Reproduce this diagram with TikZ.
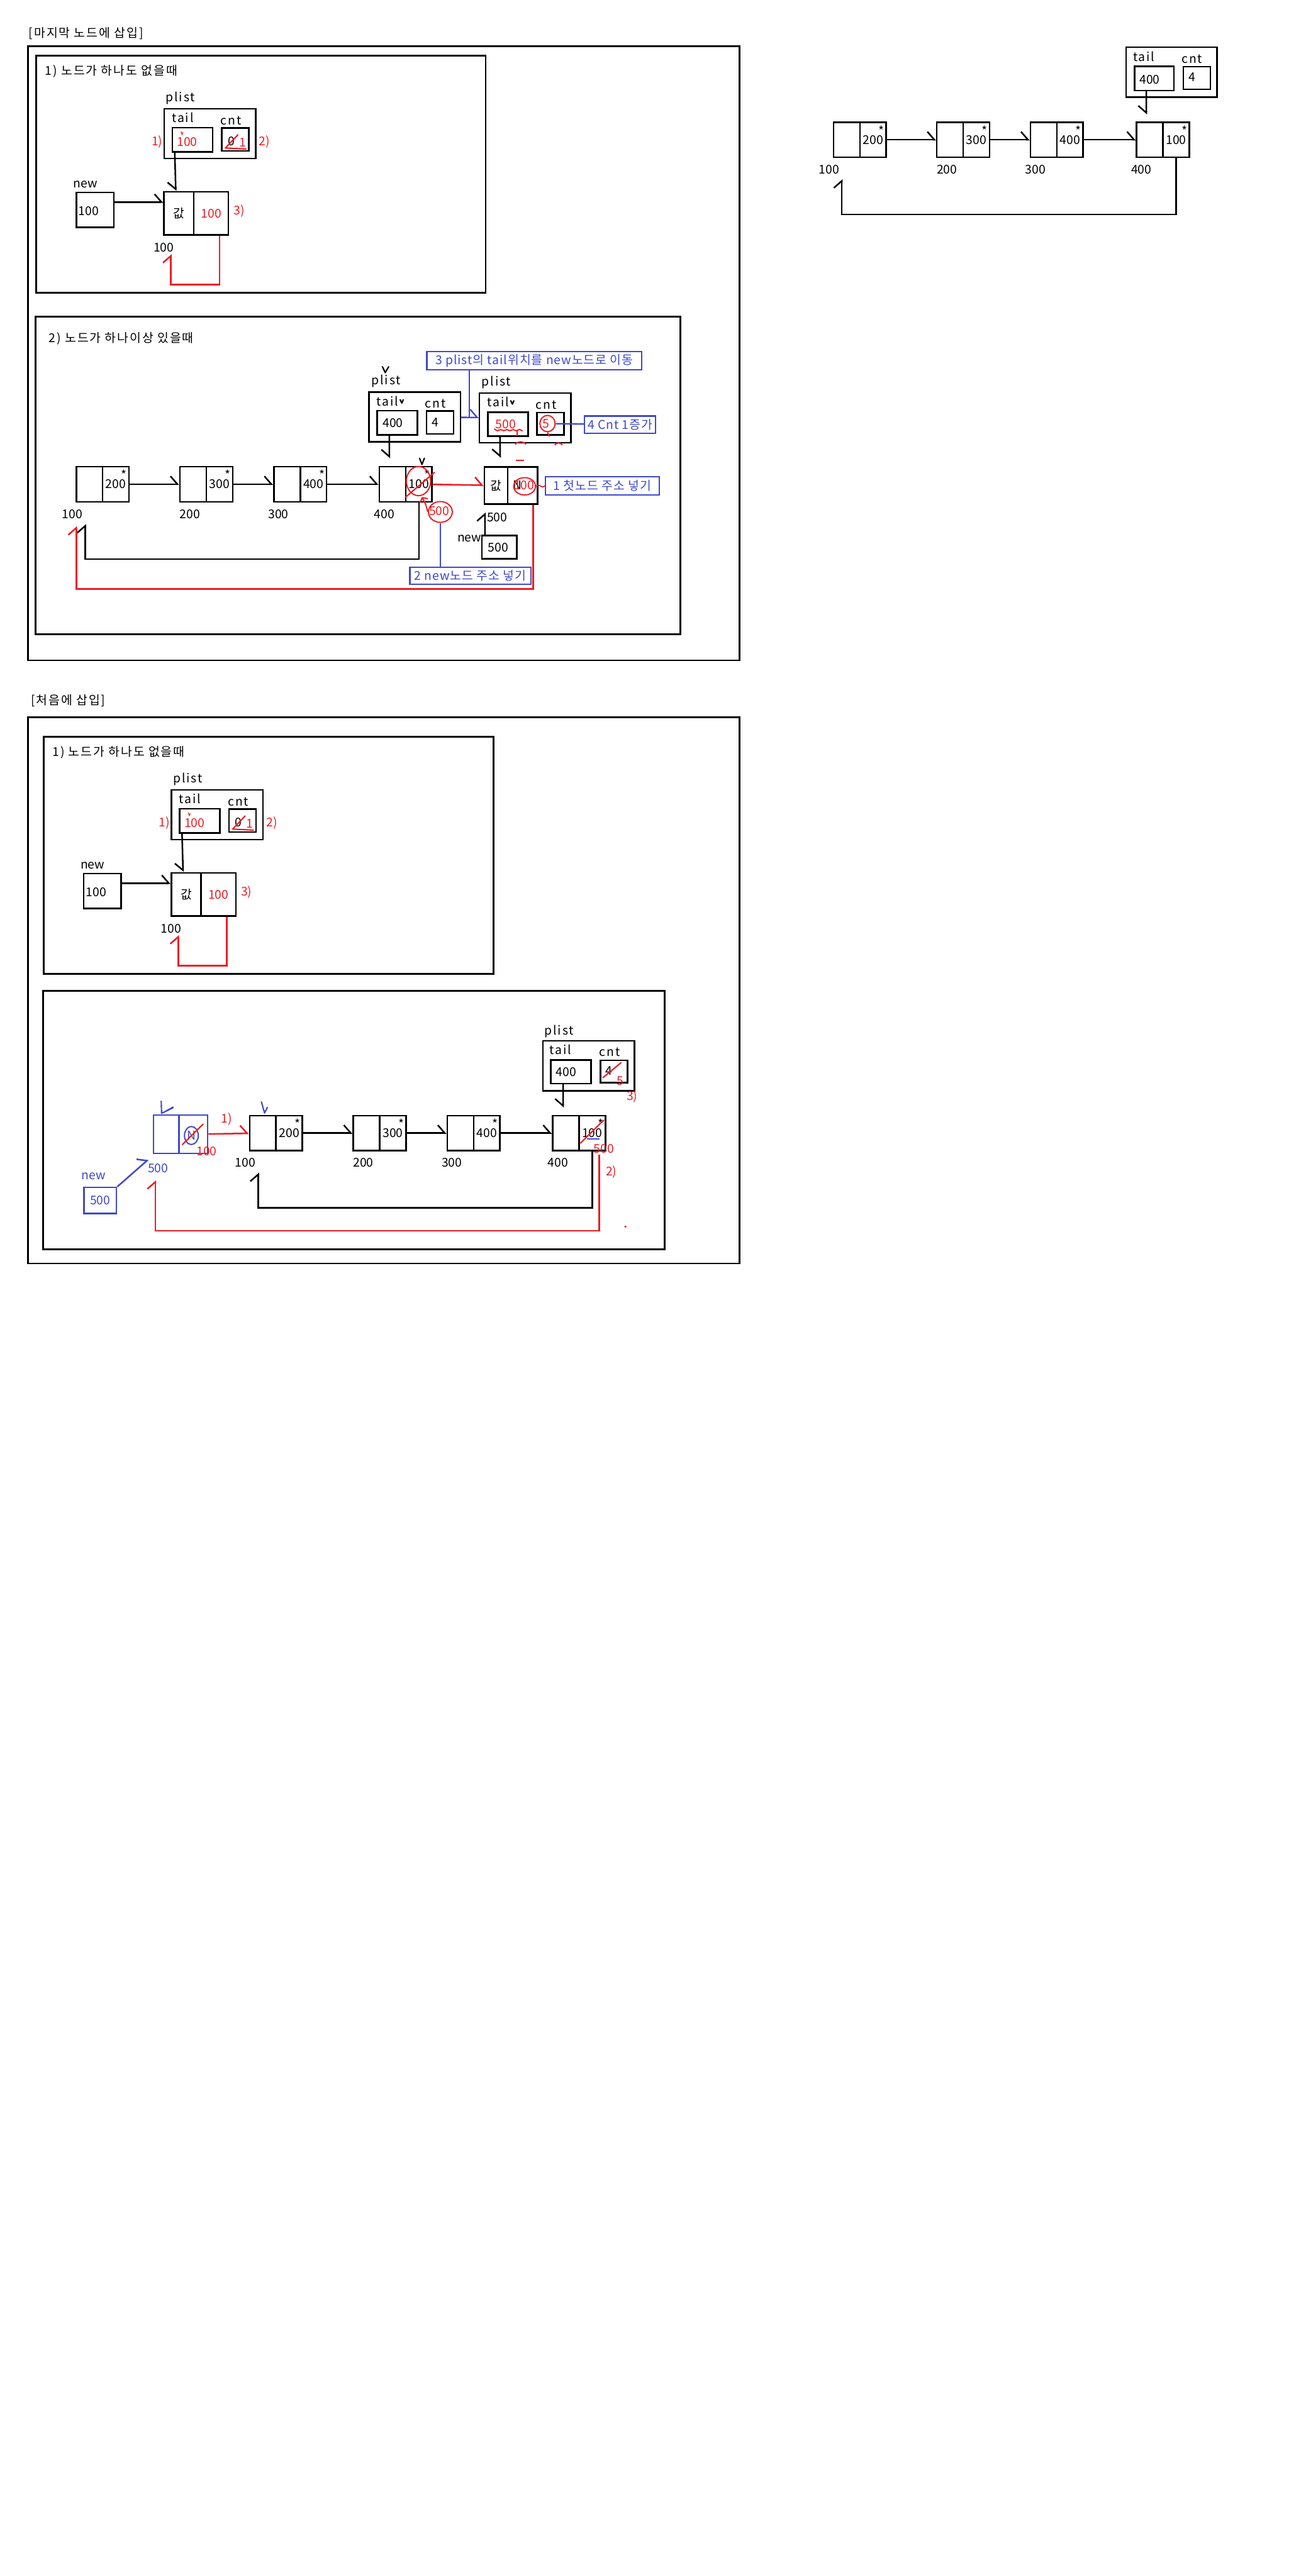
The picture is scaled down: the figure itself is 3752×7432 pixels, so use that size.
\documentclass[tikz,border=0pt]{standalone}
\usepackage{fontspec}
\setmainfont{Noto Sans CJK KR}
\newfontfamily\wide[LetterSpace=10]{Noto Sans CJK KR}
\newfontfamily\notefont[LetterSpace=5]{Noto Sans CJK KR}
\usepackage{tikz}
\usetikzlibrary{arrows.meta, shapes.geometric}
\definecolor{pred}{RGB}{237,28,36}
\definecolor{pblue}{RGB}{63,72,204}

\begin{document}
\begin{tikzpicture}[
    x=0.1mm, y=-0.1mm,
    >={Straight Barb[harpoon, length=2mm, width=4.6mm]},
    line width=1.3pt,
    every node/.style={font=\fontsize{10}{12}\selectfont, inner sep=0pt},
    word/.style={font=\fontsize{10}{12}\selectfont\wide},
    box/.style={draw, rectangle},
    half/.style={box, minimum width=7.6mm, minimum height=10.1mm},
    ptr/.style={half, label={[anchor=center, xshift=-1.6mm, yshift=-2.6mm]north east:*}},
    plistbox/.style={box, minimum width=26.4mm, minimum height=14.4mm},
    tailbox/.style={box, minimum width=11.6mm, minimum height=7mm},
    cntbox/.style={box, minimum width=7.8mm, minimum height=6.6mm},
    rtext/.style={text=pred},
    btext/.style={text=pblue},
    note/.style={draw=pblue, text=pblue, line width=1.2pt, rectangle, font=\fontsize{10}{12}\selectfont\notefont},
    plate/.style={line width=1.4pt},
    pen/.style={line width=1.1pt, line cap=round, line join=round}
]
\fill[white] (0,0) rectangle (3752,7432);
\useasboundingbox (0,0) rectangle (3752,7432);

% Titles
\node[word, anchor=west] (ttlA) at (81,96) {[마지막 노드에 삽입]};
\node[word, anchor=west] (ttlB) at (87,2022) {[처음에 삽입]};

% Plates
\draw[plate] (81,133) rectangle (2133,1905);
\draw[plate] (104,161) rectangle (1401,845);
\draw[plate] (102,914) rectangle (1962,1830);
\draw[plate] (81,2069) rectangle (2133,3645);
\draw[plate] (126,2126) rectangle (1423,2810);
\draw[plate] (124,2859) rectangle (1917,3605);

% ---- last: 1) no node yet
\node[word, anchor=west] (hdA1) at (128,205) {1) 노드가 하나도 없을때};
\node[word, anchor=west] (plLA) at (476,283) {plist};
\node[plistbox] (plA) at (605.5,385.5) {};
\node[word] (tlA) at (527,340) {tail};
\node[word] (cnA) at (666,348) {cnt};
\node[tailbox] (tA) at (555,403) {};
\node[rtext] (tvA) at (540,409) {100};
\node[cntbox] (cA) at (678.5,402.5) {};
\node (cvA) at (667,408) {0};
\node[rtext] (cwA) at (700,411) {1};
\draw[pred, pen] (650,427) -- (686,389);
\draw[pred, pen] (650,427) -- (710,430);
\draw[pred, line width=0.6pt] (522,379) -- (525,388) -- (528,381);
\node[rtext] (s1A) at (453,410) {1)};
\node[rtext] (s2A) at (763,410) {2)};
\node (nwlA) at (246,532) {new};
\node[box, minimum width=10.8mm, minimum height=10.1mm] (nwA) at (274,605.5) {};
\node (nwvA) at (256,609) {100};
\node[box, minimum width=8.6mm, minimum height=12.5mm] (va) at (516,615.5) {값};
\node[box, text=pred, minimum width=10mm, minimum height=12.5mm] (vb) at (609,615.5) {100};
\node[rtext] (s3A) at (690,608) {3)};
\node (adA) at (472,714) {100};
\coordinate (lpA) at (493,733);
\draw[-{>[swap]}] ([xshift=-5.1mm]tA.south) -- ([xshift=-0.9mm]va.north);
\draw[->] (nwA.east |- 0,583) -- (va.west |- 0,583);
\draw[pred, ->] ([xshift=2.4mm]vb.south) -- ++(0,141) -| (lpA);

% ---- top right list
\node[plistbox, minimum width=26.2mm] (plR) at (3379,208.5) {};
\node[word] (tlR) at (3299,163) {tail};
\node[word] (cnR) at (3438,171) {cnt};
\node[tailbox, minimum width=11.4mm] (tR) at (3329,226) {};
\node (tvR) at (3316,229) {400};
\node[cntbox] (cR) at (3452,225) {};
\node (cvR) at (3439,223) {4};
\node[half] (r1a) at (2442,403) {};
\node[ptr] (r1b) at (2518,403) {200};
\node[half] (r2a) at (2740,403) {};
\node[ptr] (r2b) at (2816,403) {300};
\node[half] (r3a) at (3010,403) {};
\node[ptr] (r3b) at (3086,403) {400};
\node[half] (r4a) at (3316,403) {};
\node[ptr] (r4b) at (3392,403) {100};
\node (ad1R) at (2391,489) {100};
\node (ad2R) at (2731,489) {200};
\node (ad3R) at (2986,489) {300};
\node (ad4R) at (3292,489) {400};
\coordinate (lpR) at (2428,517);
\draw[->] (r1b) -- (r2a);
\draw[->] (r2b) -- (r3a);
\draw[->] (r3b) -- (r4a);
\draw[-{>[swap]}] ([xshift=-2.3mm]tR.south) -- ([xshift=-1mm, yshift=2mm]r4a.north);
\draw[->] (r4b.south) -- ++(0,163) -| (lpR);

% ---- last: 2) one or more nodes
\node[word, anchor=west] (hdA2) at (139,976) {2) 노드가 하나이상 있을때};
\node[half] (s1a) at (258,1397) {};
\node[ptr] (s1b) at (334,1397) {200};
\node[half] (s2a) at (557,1397) {};
\node[ptr] (s2b) at (633,1397) {300};
\node[half] (s3a) at (828,1397) {};
\node[ptr] (s3b) at (904,1397) {400};
\node[half] (s4a) at (1132,1397) {};
\node[ptr] (s4b) at (1208,1397) {100};
\node[box, minimum width=6.7mm, minimum height=10.7mm] (s5a) at (1430.5,1400.5) {값};
\node[box, minimum width=8.6mm, minimum height=10.7mm] (s5b) at (1507,1400.5) {};
\node (ad1A) at (208,1483) {100};
\node (ad2A) at (548,1483) {200};
\node (ad3A) at (803,1483) {300};
\node (ad4A) at (1108,1483) {400};
\node (ad5A) at (1434,1492) {500};
\coordinate (lpA2b) at (246,1512);
\coordinate (lpA2r) at (220,1518);
\draw[->] (s1b) -- (s2a);
\draw[->] (s2b) -- (s3a);
\draw[->] (s3b) -- (s4a);
\draw[->] (s4b.south) -- ++(0,163) -| (lpA2b);

% old plist
\draw[pen] (1103,1058) -- (1111,1075) -- (1121,1058);
\node[word, anchor=west] (plLA2a) at (1069,1100) {plist};
\node[plistbox] (plA2a) at (1196,1203) {};
\node[word] (tlA2a) at (1118,1158) {tail};
\draw[pen] (1154,1153) -- (1159,1163) -- (1163,1153);
\node[word] (cnA2a) at (1256,1165) {cnt};
\node[tailbox] (tA2a) at (1146,1220) {};
\node (tvA2a) at (1133,1221) {400};
\node[cntbox] (cA2a) at (1269,1219) {};
\node (cvA2a) at (1255,1219) {4};
\draw[-{>[swap]}] ([xshift=-2.3mm]tA2a.south) -- ([xshift=-0.9mm, yshift=2.2mm]s4a.north);

% new plist
\node[word, anchor=west] (plLA2b) at (1387,1104) {plist};
\node[plistbox, minimum height=14.3mm] (plA2b) at (1515,1205.5) {};
\node[word] (tlA2b) at (1437,1160) {tail};
\draw[pen] (1473,1156) -- (1478,1166) -- (1482,1156);
\node[word] (cnA2b) at (1575,1168) {cnt};
\node[tailbox, minimum height=6.9mm] (tA2b) at (1465,1223.5) {};
\node[rtext] (tvA2b) at (1459,1224) {500};
\draw[pred, line width=1pt, rounded corners=0.6mm] (1426,1237) -- (1435,1245) -- (1444,1237) -- (1453,1245) -- (1462,1237) -- (1471,1245) -- (1480,1237) -- (1489,1245) -- (1498,1237) -- (1507,1244);
\draw[pred, line width=1pt] (1491,1241) -- (1491,1258);
\node[cntbox, minimum height=6.5mm] (cA2b) at (1588,1222.5) {};
\node[rtext] (cvA2b) at (1574,1222) {5};
\node[ellipse, draw=pred, line width=1pt, minimum width=4.4mm, minimum height=4.7mm] (c5) at (1579,1222) {};
\draw[pred, line width=1pt] (c5.south) -- ++(6,12);
\draw[pred, line width=1pt] (1486,1282) .. controls (1495,1272) and (1508,1272) .. (1517,1282);
\draw[pred, line width=1pt] (1600,1284) .. controls (1606,1276) and (1616,1276) .. (1622,1284);
\draw[pred, line width=1pt] (1488,1328) -- (1512,1328);
\draw[-{>[swap]}] ([xshift=-2.3mm]tA2b.south) -- ([xshift=1.2mm, yshift=2.4mm]s5a.north);

% change marks on the old last node
\node[ellipse, draw=pred, line width=1pt, minimum width=7mm, minimum height=8.4mm] (cA4) at (1207,1388) {};
\draw[pred, pen] (1169,1435) -- (1253,1363);
\draw[pen] (1210,1322) -- (1217,1340) -- (1224,1322);
\node[ellipse, draw=pred, line width=1pt, minimum width=6.9mm, minimum height=6mm] (c500) at (1270,1477) {};
\node[rtext] (t500) at (1267,1475) {500};
\draw[pred, line width=1pt, -{Straight Barb[length=1mm, width=2.6mm]}] (c500.west) .. controls (1228,1455) .. ([xshift=0.9mm, yshift=1.6mm]s4b.south);

% new node
\node (nN) at (1492,1400) {N};
\node[rtext] (vN5) at (1512,1400) {100};
\node[ellipse, draw=pred, line width=1pt, minimum width=6.3mm, minimum height=5mm] (c100) at (1513,1403) {};
\node (nwlA2) at (1354,1554) {new};
\node[box, minimum width=10.1mm, minimum height=6.7mm] (nwA2) at (1440.5,1578.5) {};
\node (nwvA2) at (1437,1579) {500};
\draw[->] ([xshift=1.1mm]nwA2.north west) -- ([xshift=0.4mm, yshift=-2.2mm]s5a.south west);
\draw[pred, ->] (s4b) -- (s5a);
\draw[pred, ->] ([xshift=3.1mm]s5b.south) -- ++(0,243) -| (lpA2r);

% notes
\node[note, minimum width=62mm, minimum height=5.3mm] (note3) at (1541,1040.5) {3 plist의 tail위치를 new노드로 이동};
\node[note, minimum width=20.5mm, minimum height=5mm] (note4) at (1788.5,1225) {4 Cnt 1증가};
\node[note, minimum width=32.8mm, minimum height=5.3mm] (note1) at (1737,1401.5) {1 첫노드 주소 넣기};
\node[note, minimum width=34.9mm, minimum height=4.9mm] (note2) at (1356.5,1661.5) {2 new노드 주소 넣기};
\coordinate (j3) at (1353,1204);
\draw[pblue, line width=1.2pt] (note3.south -| j3) -- (j3);
\draw[pblue, line width=1.2pt, ->] (plA2a) -- (plA2b);
\draw[pblue, line width=1.2pt] (c5) -- (note4);
\draw[pblue, line width=1.2pt] (c500.south) -- (c500.south |- note2.north);
\draw[pred, line width=0.9pt] (c100.east) .. controls (1555,1392) and (1562,1412) .. (note1.west);

% ---- first: 1) no node yet
\begin{scope}[shift={(21,1965)}]
\node[word, anchor=west] (hdB1) at (128,205) {1) 노드가 하나도 없을때};
\node[word, anchor=west] (plLB) at (476,283) {plist};
\node[plistbox] (plB) at (605.5,385.5) {};
\node[word] (tlB) at (527,340) {tail};
\node[word] (cnB) at (666,348) {cnt};
\node[tailbox] (tB) at (555,403) {};
\node[rtext] (tvB) at (540,409) {100};
\node[cntbox] (cB) at (678.5,402.5) {};
\node (cvB) at (667,408) {0};
\node[rtext] (cwB) at (700,411) {1};
\draw[pred, pen] (650,427) -- (686,389);
\draw[pred, pen] (650,427) -- (710,430);
\draw[pred, line width=0.6pt] (522,379) -- (525,388) -- (528,381);
\node[rtext] (s1B) at (453,410) {1)};
\node[rtext] (s2B) at (763,410) {2)};
\node (nwlB) at (246,532) {new};
\node[box, minimum width=10.8mm, minimum height=10.1mm] (nwB) at (274,605.5) {};
\node (nwvB) at (256,609) {100};
\node[box, minimum width=8.6mm, minimum height=12.5mm] (wa) at (516,615.5) {값};
\node[box, text=pred, minimum width=10mm, minimum height=12.5mm] (wb) at (609,615.5) {100};
\node[rtext] (s3B) at (690,608) {3)};
\node (adB) at (472,714) {100};
\coordinate (lpB) at (493,733);
\draw[-{>[swap]}] ([xshift=-5.1mm]tB.south) -- ([xshift=-0.9mm]wa.north);
\draw[->] (nwB.east |- 0,583) -- (wa.west |- 0,583);
\draw[pred, ->] ([xshift=2.4mm]wb.south) -- ++(0,141) -| (lpB);
\end{scope}

% ---- first: nodes already there
\node[box, draw=pblue, minimum width=7.3mm, minimum height=11.1mm] (q0a) at (479.5,3272.5) {};
\node[box, draw=pblue, minimum width=8.3mm, minimum height=11.1mm] (q0b) at (557.5,3272.5) {};
\node[ellipse, draw=pblue, line width=1pt, minimum width=4mm, minimum height=5.2mm] (cN) at (552,3276) {};
\node[btext] (qN) at (553,3275) {N};
\draw[pred, pen] (526,3302) -- (586,3243);
\node[rtext] (q0v) at (596,3322) {100};
\draw[pblue, pen] (465,3177) -- (466,3212) -- (499,3196);
\draw[pblue, pen] (478,3206) -- (499,3194);
\node[btext] (ad0B) at (456,3371) {500};
\node[btext] (nwlB2) at (270,3394) {new};
\node[box, draw=pblue, text=pblue, minimum width=9.4mm, minimum height=7.5mm] (nwB2) at (289,3463.5) {500};
\draw[pblue, ->] (nwB2.north east) -- ([shift={(-13,15)}]q0a.south west);
\node[rtext] (st1B) at (654,3228) {1)};

\node[half] (q1a) at (758,3269) {};
\node[ptr] (q1b) at (834,3269) {200};
\node[half] (q2a) at (1057,3269) {};
\node[ptr] (q2b) at (1133,3269) {300};
\node[half] (q3a) at (1328,3269) {};
\node[ptr] (q3b) at (1404,3269) {400};
\node[half] (q4a) at (1632,3269) {};
\node[ptr] (q4b) at (1708,3269) {100};
\draw[pblue, pen] (754,3179) -- (763,3211) -- (771,3195);
\node (ad1B) at (707,3354) {100};
\node (ad2B) at (1048,3354) {200};
\node (ad3B) at (1303,3354) {300};
\node (ad4B) at (1609,3354) {400};
\draw[pblue, line width=1pt] (1692,3286) -- (1730,3286);
\draw[pred, pen] (1674,3298) -- (1741,3232);
\node[rtext] (q4v) at (1742,3314) {500};
\coordinate (lpB2b) at (745,3383);
\coordinate (lpB2r) at (448,3405);
\draw[pred, ->] (q0b) -- (q1a);
\draw[->] (q1b) -- (q2a);
\draw[->] (q2b) -- (q3a);
\draw[->] (q3b) -- (q4a);
\draw[->] (q4b.south) -- ++(0,163) -| (lpB2b);
\draw[pred, ->] ([xshift=2mm, yshift=-1mm]q4b.south) -- ++(0,219) -| (lpB2r);
\node[rtext] (st2B) at (1763,3381) {2)};
\fill[pred] (1804,3539) circle [radius=0.35mm];

\node[word, anchor=west] (plLB2) at (1568,2975) {plist};
\node[plistbox] (plB2) at (1698,3075) {};
\node[word] (tlB2) at (1617,3028) {tail};
\node[word] (cnB2) at (1758,3036) {cnt};
\node[tailbox, minimum height=6.8mm] (tB2) at (1647,3092) {};
\node (tvB2) at (1633,3092) {400};
\node[cntbox, minimum height=6.5mm] (cB2) at (1770.5,3091.5) {};
\node (cvB2) at (1757,3089) {4};
\draw[pred, pen] (1739,3109) -- (1791,3066);
\node[rtext] (cwB2) at (1789,3119) {5};
\node[rtext] (st3B) at (1823,3164) {3)};
\draw[-{>[swap]}] ([xshift=-2.3mm]tB2.south) -- ([xshift=-0.8mm, yshift=2.1mm]q4a.north);

\end{tikzpicture}
\end{document}
